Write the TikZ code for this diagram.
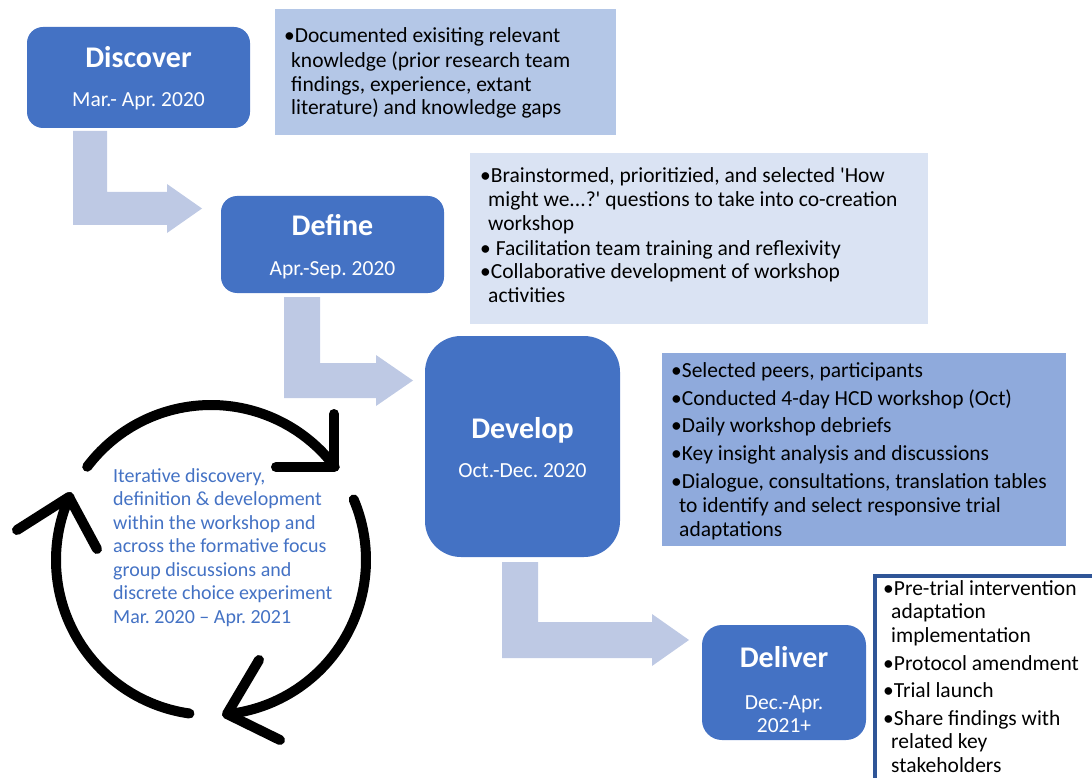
\documentclass[tikz,border=0pt]{standalone}
\usepackage{fontspec}
\setmainfont{Carlito}[Ligatures=TeXOff]
\frenchspacing
\definecolor{stageblue}{HTML}{4472C4}
\definecolor{arrowfill}{RGB}{190,201,228}
\definecolor{discfill}{HTML}{B4C7E7}
\definecolor{deffill}{HTML}{DAE3F3}
\definecolor{devfill}{HTML}{8FAADC}
\definecolor{delborder}{HTML}{2F5597}
\begin{document}
\begin{tikzpicture}[x=1pt,y=1pt,
  stagebox/.style={fill=stageblue, draw=none, inner sep=0pt},
  titletext/.style={text=white, font=\fontsize{30}{36}\selectfont\bfseries, inner sep=0pt, anchor=base},
  datetext/.style={text=white, font=\fontsize{21.5}{26}\selectfont, inner sep=0pt, anchor=base},
  descbox/.style={draw=none, inner sep=0pt},
  desctext/.style={text=black, font=\fontsize{21.5}{24}\selectfont, inner sep=0pt, anchor=base west},
  cycletext/.style={text=stageblue, font=\fontsize{20}{24}\selectfont, inner sep=0pt, anchor=base west},
  blockarrow/.style={fill=arrowfill, draw=none},
  cyclearrow/.style={draw=black, line width=10pt, line cap=round, line join=round}
]
\useasboundingbox (0,0) rectangle (1092,-778);
\clip (0,0) rectangle (1092,-778);

% description boxes
\node[descbox, fill=discfill, minimum width=341pt, minimum height=126pt] (discD) at (445.5,-72) {};
\node[descbox, fill=deffill, minimum width=458pt, minimum height=171pt] (defD) at (699,-238.5) {};
\node[descbox, fill=devfill, minimum width=404pt, minimum height=193pt] (devD) at (864,-449.5) {};
\node[descbox, fill=white, draw=delborder, line width=3.5pt, minimum width=240pt, minimum height=230pt, anchor=north west] (delD) at (873,-574) {};

% block arrows
\path[blockarrow] (73,-131) -- (107,-131) -- (107,-192) -- (167,-192) -- (167,-184) -- (202,-208.5) -- (167,-233) -- (167,-225) -- (73,-225) -- cycle;
\path[blockarrow] (284,-297) -- (320,-297) -- (320,-363) -- (376,-363) -- (376,-355) -- (413,-380.5) -- (376,-406) -- (376,-398) -- (284,-398) -- cycle;
\path[blockarrow] (502,-562) -- (538,-562) -- (538,-622) -- (652,-622) -- (652,-614) -- (689,-640) -- (652,-666) -- (652,-658) -- (502,-658) -- cycle;

% stage boxes
\node[stagebox, rounded corners=16pt, minimum width=223pt, minimum height=101pt] (disc) at (138.5,-77.5) {};
\node[stagebox, rounded corners=16pt, minimum width=223pt, minimum height=97pt] (def) at (332.5,-244.5) {};
\node[stagebox, rounded corners=36pt, minimum width=195pt, minimum height=221pt] (dev) at (522.5,-446.5) {};
\node[stagebox, rounded corners=20pt, minimum width=164pt, minimum height=115pt] (del) at (784,-682.5) {};

\node[titletext] (discTitle) at (138.5,-67.5) {Discover};
\node[datetext] (discDate) at (138.5,-107) {Mar.- Apr. 2020};
\node[titletext] (defTitle) at (332.5,-235) {Define};
\node[datetext] (defDate) at (332.5,-275) {Apr.-Sep. 2020};
\node[titletext] (devTitle) at (522.5,-438) {Develop};
\node[datetext] (devDate) at (522.5,-477) {Oct.-Dec. 2020};
\node[titletext] (delTitle) at (784,-667) {Deliver};
\node[datetext] (delDate1) at (784,-709) {Dec.-Apr.};
\node[datetext] (delDate2) at (784,-732) {2021+};

% description texts
\foreach \yy/\xx/\t [count=\i] in {
  43/284/{•Documented exisiting relevant},
  67.5/291/{knowledge (prior research team},
  91.5/291/{findings, experience, extant},
  115/291/{literature) and knowledge gaps}}
  \node[desctext] (discL\i) at (\xx,-\yy) {\t};

\foreach \yy/\xx/\t [count=\i] in {
  183/480/{•Brainstormed, prioritizied, and selected 'How},
  206.5/488/{might we...?' questions to take into co-creation},
  230/488/{workshop},
  255/480/{• Facilitation team training and reflexivity},
  278.5/480/{•Collaborative development of workshop},
  302/488/{activities}}
  \node[desctext] (defL\i) at (\xx,-\yy) {\t};

\foreach \yy/\xx/\t [count=\i] in {
  377/671/{•Selected peers, participants},
  405/671/{•Conducted 4-day HCD workshop (Oct)},
  432.5/671/{•Daily workshop debriefs},
  460/671/{•Key insight analysis and discussions},
  488/671/{•Dialogue, consultations, translation tables},
  512/679/{to identify and select responsive trial},
  536/679/{adaptations}}
  \node[desctext] (devL\i) at (\xx,-\yy) {\t};

\foreach \yy/\xx/\t [count=\i] in {
  595/883/{•Pre-trial intervention},
  618.5/891/{adaptation},
  642/891/{implementation},
  670/883/{•Protocol amendment},
  697.5/883/{•Trial launch},
  725/883/{•Share findings with},
  748.5/891/{related key},
  772/891/{stakeholders}}
  \node[desctext] (delL\i) at (\xx,-\yy) {\t};

% cycle
\coordinate (cc) at (211,-560);
\draw[cyclearrow] (cc) ++(143:155) arc[start angle=143, end angle=37, radius=155];
\coordinate (t1) at (334,-467);
\draw[cyclearrow] (276,-467) -- (t1) -- (334,-414);
\draw[cyclearrow] (cc) ++(23:155) arc[start angle=23, end angle=-84, radius=155];
\coordinate (t2) at (227,-714);
\draw[cyclearrow] (259,-660) -- (t2) -- (280,-740);
\draw[cyclearrow] (cc) ++(262:155) arc[start angle=262, end angle=156, radius=155];
\coordinate (t3) at (69,-497);
\draw[cyclearrow] (17,-530) -- (t3) -- (97,-549);

\foreach \yy/\t [count=\i] in {
  482/{Iterative discovery,},
  505.5/{definition \& development},
  529/{within the workshop and},
  552.5/{across the formative focus},
  576/{group discussions and},
  599.5/{discrete choice experiment},
  623/{Mar. 2020 – Apr. 2021}}
  \node[cycletext] (cyc\i) at (113,-\yy) {\t};
\end{tikzpicture}
\end{document}
